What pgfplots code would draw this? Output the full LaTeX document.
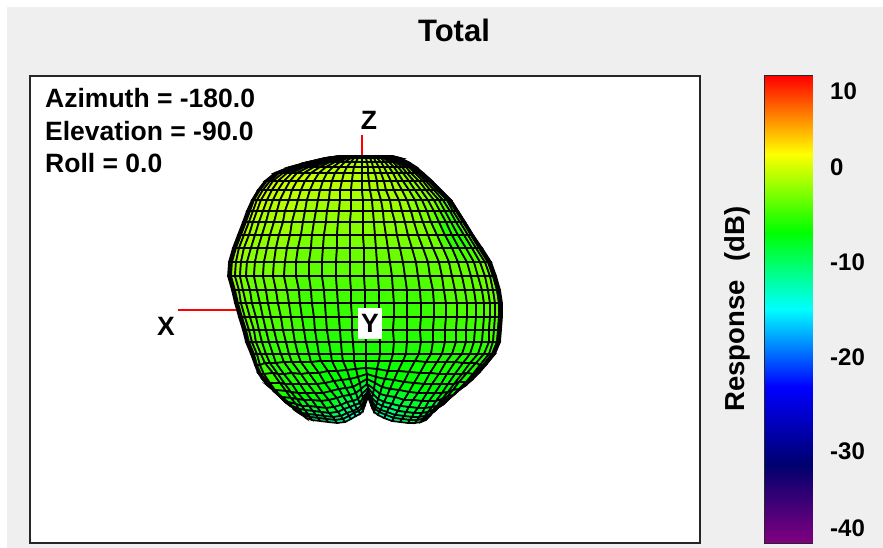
\documentclass[border=0pt]{standalone}
\usepackage{pgfplots}
\usepackage{fontspec}
\setmainfont{Liberation Sans}
\pgfplotsset{compat=1.18}
\pgfplotsset{colormap={response}{rgb255=(128,0,128) rgb255=(0,0,110) rgb255=(0,0,255) rgb255=(0,255,255) rgb255=(0,255,0) rgb255=(255,255,0) rgb255=(255,0,0)}}
\newcommand{\bigfont}{\fontsize{26.5}{30}\selectfont\bfseries}
\begin{document}
\begin{tikzpicture}[x=1pt,y=1pt]
\fill[white] (0,0) rectangle (883,548);
\fill[fill={rgb,255:red,239;green,239;blue,239}] (7,0) rectangle (883,541);
\node[font=\fontsize{31}{36}\selectfont\bfseries] at (454,518) {Total};
\node[font=\fontsize{27.5}{30}\selectfont\bfseries,rotate=90] at (737,239) {Response\hspace{19pt}(dB)};

\begin{axis}[
  at={(30pt,5pt)}, anchor=south west,
  scale only axis, width=670pt, height=467pt,
  xmin=30, xmax=700, ymin=76, ymax=543, y dir=reverse,
  xtick=\empty, ytick=\empty,
  axis background/.style={fill=white},
  axis line style={line width=1.6pt,color=black!85},
  colormap name=response, point meta min=-42, point meta max=12,
  clip=false
]
\addplot[red,line width=1.5pt] coordinates {(362,135)(362,156)};
\addplot[red,line width=1.5pt] coordinates {(178,310)(237,310)};
\addplot[surf,shader=faceted,faceted color=black,line width=1.7pt,mesh/rows=30,mesh/cols=31,point meta=explicit]
  table[x index=0,y index=1,meta index=2] {
340 156 0
340 156 0
340 156 0
341 156 0
342 156 0
343 156 0
344 156 0
346 156 0
347 156 0
349 156 0
351 156 0
353 156 0
355 156 0
357 156 0
360 156 0
362 156 0
365 156 0
368 156 0
371 156 0
374 156 0
377 156 0
380 156 -.5
382 156 -.5
384 156 -.5
386 156 -.5
388 156 -.5
389 156 -1
390 156 -1
391 156 -1
392 156 -1
392 156 -1
325 158 1
325 158 1
326 158 1
327 158 1
328 158 1
330 158 .5
332 158 .5
335 158 .5
337 158 .5
340 158 .5
344 158 0
347 158 0
351 158 0
354 158 0
358 158 0
362 158 0
366 158 0
370 158 0
374 158 0
377 158 0
381 158 0
384 158 -.5
387 158 -.5
390 158 -.5
393 158 -.5
395 158 -.5
397 158 -1
398 158 -1
399 158 -1
400 158 -1
400 158 -1
308 162 1
308 162 1
309 162 1
311 162 1
313 162 1
315 162 .5
318 162 .5
322 162 .5
326 162 .5
330 162 .5
335 162 0
340 162 0
345 162 0
351 162 0
356 162 0
362 162 0
367 162 0
372 162 0
376 162 0
381 162 0
385 162 0
389 162 -.7
393 162 -.7
396 162 -.7
399 162 -.7
402 162 -.7
404 162 -1.5
406 162 -1.5
407 162 -1.5
408 162 -1.5
408 162 -1.5
290 167 1.5
290 167 1.5
292 167 1.5
294 167 1.5
296 167 1.5
300 167 1
304 167 1
309 167 1
314 167 1
320 167 1
326 167 .5
333 167 .5
340 167 .5
347 167 .5
354 167 .5
362 167 .2
368 167 0
373 167 0
379 167 0
384 167 0
389 167 0
394 167 -.7
398 167 -.7
402 167 -.7
406 167 -.7
409 167 -.7
411 167 -1.5
413 167 -1.5
415 167 -1.5
416 167 -1.5
416 167 -1.5
275 173 1.5
275 173 1.5
277 173 1.5
279 173 1.5
283 173 1.5
287 173 1
292 173 1
297 173 1
304 173 1
311 173 1
319 173 .5
327 173 .5
335 173 .5
344 173 .5
353 173 .5
362 173 .2
368 173 0
375 173 0
381 173 0
387 173 0
393 173 0
398 173 -1
403 173 -1
407 173 -1
411 173 -1
415 173 -1
418 173 -2
420 173 -2
422 173 -2
423 173 -2
423 173 -2
265 181 1.5
266 181 1.5
267 181 1.5
270 181 1.5
273 181 1.5
278 181 1
284 181 1
290 181 1
297 181 1
305 181 1
314 181 .5
323 181 .5
332 181 .5
342 181 .5
352 181 .5
362 181 .2
369 181 0
377 181 0
384 181 0
391 181 0
397 181 0
403 181 -1
409 181 -1
414 181 -1
419 181 -1
423 181 -1
426 181 -2
429 181 -2
431 181 -2
432 181 -2
432 181 -2
258 190 1.5
259 190 1.5
260 190 1.5
263 190 1.5
267 190 1.5
272 190 1
278 190 1
285 190 1
292 190 1
301 190 1
310 190 .5
320 190 .5
330 190 .5
340 190 .5
351 190 .5
362 190 0
370 190 0
378 190 0
386 190 0
394 190 0
402 190 0
409 190 -1
415 190 -1
421 190 -1
426 190 -1
430 190 -1
434 190 -2
437 190 -2
439 190 -2
441 190 -2
441 190 -2
252 200 1.5
253 200 1.5
254 200 1.5
257 200 1.5
261 200 1.5
267 200 .5
273 200 .5
280 200 .5
289 200 .5
298 200 .5
307 200 -.2
318 200 -.2
329 200 -.2
340 200 -.2
351 200 -.2
363 200 -.5
372 200 -.5
381 200 -.5
390 200 -.5
399 200 -.5
407 200 -.5
415 200 -1.5
422 200 -1.5
428 200 -1.5
434 200 -1.5
439 200 -1.5
443 200 -2.5
447 200 -2.5
449 200 -2.5
451 200 -2.5
451 200 -2.5
247 211 1
248 211 1
250 211 1
253 211 1
257 211 1
263 211 .2
269 211 .2
277 211 .2
285 211 .2
295 211 .2
305 211 -.5
316 211 -.5
327 211 -.5
339 211 -.5
351 211 -.5
363 211 -.5
373 211 -.5
383 211 -.5
392 211 -.5
402 211 -.5
411 211 -.5
419 211 -1.5
427 211 -1.5
434 211 -1.5
440 211 -2
445 211 -4
450 211 -4
453 211 -4
456 211 -2.5
458 211 -2.5
458 211 -2.5
243 222 .5
244 222 .5
246 222 .5
249 222 .5
253 222 .5
259 222 -.2
266 222 -.2
274 222 -.2
283 222 -.2
292 222 -.2
303 222 -1
314 222 -1
326 222 -1
338 222 -1
350 222 -1
363 222 -1
374 222 -1
384 222 -1
395 222 -1
405 222 -1
414 222 -1
423 222 -1.7
431 222 -1.7
439 222 -4.5
446 222 -4.5
451 222 -4.5
456 222 -4.5
460 222 -2.5
463 222 -2.5
465 222 -2.5
465 222 -2.5
238 235 0
239 235 0
241 235 0
244 235 0
249 235 0
255 235 -.7
262 235 -.7
270 235 -.7
279 235 -.7
290 235 -.7
301 235 -1.5
312 235 -1.5
324 235 -1.5
337 235 -1.5
350 235 -1.5
363 235 -1.5
375 235 -1.5
386 235 -1.5
397 235 -1.5
408 235 -1.5
418 235 -1.5
428 235 -2
437 235 -2
445 235 -4.5
452 235 -4.5
458 235 -4.5
464 235 -4.5
468 235 -2.5
471 235 -2.5
473 235 -2.5
473 235 -2.5
233 248 0
234 248 0
236 248 0
239 248 0
244 248 0
251 248 -1
258 248 -1
267 248 -1
276 248 -1
287 248 -1
298 248 -2
311 248 -2
323 248 -2
337 248 -2
350 248 -2
364 248 -2
376 248 -2
388 248 -2
400 248 -2
412 248 -2
423 248 -2
433 248 -2.2
443 248 -2.2
452 248 -4.5
459 248 -4.5
466 248 -4.5
472 248 -4.5
476 248 -2.5
479 248 -2.5
481 248 -2.5
482 248 -2.5
229 262 -.5
230 262 -.5
232 262 -.5
236 262 -.5
241 262 -.5
247 262 -1.5
255 262 -1.5
264 262 -1.5
274 262 -1.5
285 262 -1.5
296 262 -2.5
309 262 -2.5
322 262 -2.5
336 262 -2.5
350 262 -2.5
364 262 -2.5
377 262 -2.5
390 262 -2.5
403 262 -2.5
416 262 -2.5
428 262 -2.5
439 262 -2.2
449 262 -2.2
458 262 -2.2
467 262 -2.2
474 262 -2.2
480 262 -2
485 262 -2
488 262 -2
490 262 -2
491 262 -2
228 276 -1
229 276 -1
231 276 -1
235 276 -1
240 276 -1
246 276 -2
254 276 -2
263 276 -2
273 276 -2
284 276 -2
296 276 -3
309 276 -3
322 276 -3
336 276 -3
350 276 -3
364 276 -3
378 276 -3
392 276 -3
405 276 -3
418 276 -3
430 276 -3
442 276 -2.5
452 276 -2.5
462 276 -2.5
471 276 -2.5
478 276 -2.5
485 276 -2
490 276 -2
493 276 -2
495 276 -2
496 276 -2
232 290 -1.5
233 290 -1.5
235 290 -1.5
239 290 -1.5
243 290 -1.5
250 290 -2.5
257 290 -2.5
266 290 -2.5
276 290 -2.5
287 290 -2.5
299 290 -3.5
311 290 -3.5
324 290 -3.5
337 290 -3.5
351 290 -3.5
365 290 -3.5
379 290 -3.5
393 290 -3.5
407 290 -3.5
420 290 -3.5
433 290 -3.5
444 290 -2.7
455 290 -2.7
465 290 -2.7
474 290 -2.7
482 290 -2.7
488 290 -2
493 290 -2
497 290 -2
499 290 -2
500 290 -2
235 303 -2
236 303 -2
238 303 -2
241 303 -2
246 303 -2
252 303 -3
260 303 -3
268 303 -3
278 303 -3
289 303 -3
300 303 -4
312 303 -4
325 303 -4
338 303 -4
351 303 -4
365 303 -4
379 303 -4
394 303 -4
407 303 -4
421 303 -4
434 303 -4
446 303 -3.2
457 303 -3.2
467 303 -3.2
476 303 -3.2
484 303 -3.2
490 303 -2.5
495 303 -2.5
499 303 -2.5
501 303 -2.5
502 303 -2.5
239 317 -2
240 317 -2
242 317 -2
245 317 -2
250 317 -2
256 317 -3
263 317 -3
271 317 -3
281 317 -3
291 317 -3
302 317 -4
314 317 -4
326 317 -4
339 317 -4
352 317 -4
365 317 -4
379 317 -4
394 317 -4
407 317 -4
421 317 -4
434 317 -4
446 317 -3.5
457 317 -3.5
467 317 -3.5
476 317 -3.5
484 317 -3.5
490 317 -3
495 317 -3
499 317 -3
501 317 -3
502 317 -3
243 330 -2.5
244 330 -2.5
246 330 -2.5
249 330 -2.5
254 330 -2.5
259 330 -3.5
266 330 -3.5
274 330 -3.5
283 330 -3.5
293 330 -3.5
304 330 -4.5
315 330 -4.5
327 330 -4.5
340 330 -4.5
352 330 -4.5
365 330 -4.5
379 330 -4.5
393 330 -4.5
407 330 -4.5
420 330 -4.5
433 330 -4.5
445 330 -4
456 330 -4
466 330 -4
475 330 -4
483 330 -4
489 330 -3.5
494 330 -3.5
498 330 -3.5
500 330 -3.5
501 330 -3.5
246 342 -3
247 342 -3
249 342 -3
252 342 -3
256 342 -3
262 342 -4
269 342 -4
277 342 -4
286 342 -4
295 342 -4
306 342 -5
317 342 -5
329 342 -5
341 342 -5
353 342 -5
366 342 -5
380 342 -5
394 342 -5
407 342 -5
421 342 -5
433 342 -5
445 342 -4.5
456 342 -4.5
466 342 -4.5
474 342 -4.5
482 342 -4.5
489 342 -4
493 342 -4
497 342 -4
499 342 -4
500 342 -4
251 354 -3
252 354 -3
254 354 -3
257 354 -3
261 354 -3
266 354 -4
273 354 -4
281 354 -4
289 354 -4
298 354 -4
309 354 -5
319 354 -5
331 354 -5
342 354 -5
354 354 -5
366 354 -5
380 354 -5
393 354 -5
406 354 -5
419 354 -5
431 354 -5
442 354 -4.7
452 354 -4.7
462 354 -4.7
470 354 -4.7
478 354 -4.7
484 354 -4.5
489 354 -4.5
492 354 -4.5
494 354 -4.5
495 354 -4.5
255 365 -3.5
256 365 -3.5
257 365 -3.5
260 365 -3.5
265 363 -3.5
270 363 -4.5
276 363 -4.5
284 362 -4.5
292 362 -4.5
301 362 -4.5
311 362 -5.5
321 361 -5.5
332 361 -5.5
343 361 -5.5
354 361 -5.5
366 361 -5.5
379 361 -5.5
391 361 -5.5
403 361 -5.5
415 361 -5.5
426 362 -5.5
437 362 -5.2
446 362 -5.2
455 362 -5.2
463 363 -5.2
470 363 -5.2
476 363 -5
480 365 -5
483 365 -5
485 365 -5
486 365 -5
258 373 -4
259 373 -4
261 374 -4
264 374 -4
273 373 -4
278 374 -4.7
284 374 -4.7
292 373 -4.7
301 374 -4.7
309 373 -4.7
319 373 -5.5
328 371 -5.5
337 371 -5.5
347 370 -5.5
356 369 -5.5
366 368 -5.5
377 369 -5.5
388 371 -5.5
398 371 -5.5
409 372 -5.5
420 373 -5.5
430 373 -5.2
439 374 -5.2
447 374 -5.2
455 374 -5.2
462 374 -5.2
467 373 -5
473 374 -5
476 373 -5
478 373 -5
479 373 -5
263 380 -4
265 381 -4
267 382 -4
270 383 -4
280 383 -4
285 384 -5
292 384 -5
300 384 -5
308 384 -5
317 384 -5
325 383 -6
334 381 -6
342 380 -6
350 379 -6
358 377 -6
367 374 -6
376 377 -6
385 379 -6
394 380 -6
404 382 -6
414 383 -6
424 384 -5.7
432 384 -5.7
441 384 -5.7
448 384 -5.7
454 384 -5.7
459 382 -5.5
466 382 -5.5
469 381 -5.5
471 380 -5.5
472 380 -5.5
268 386 -5
270 387 -5
272 389 -5
275 390 -5
286 391 -5
291 392 -5.7
298 393 -5.7
306 393 -5.7
315 393 -5.7
323 393 -5.7
331 391 -6.5
339 389 -6.5
346 388 -6.5
353 387 -6.5
360 383 -6.5
367 379 -6.5
375 383 -6.5
382 387 -6.5
390 389 -6.5
399 390 -6.5
409 392 -6.5
418 393 -6.2
427 393 -6.2
435 393 -6.2
442 393 -6.2
448 392 -6.2
453 390 -6
459 389 -6
462 387 -6
464 386 -6
465 386 -6
274 391 -5.5
276 393 -5.5
278 395 -5.5
282 397 -5.5
291 398 -5.5
297 399 -6.2
304 400 -6.2
312 400 -6.2
321 401 -6.2
329 400 -6.2
337 398 -7.5
343 396 -7.5
350 395 -7.5
356 393 -7.5
361 389 -7.5
367 384 -7.5
374 389 -7.5
380 394 -7.5
387 396 -7.5
395 397 -7.5
404 400 -7.5
413 400 -7
422 401 -7
429 401 -7
436 401 -7
442 399 -7
447 397 -6.5
453 395 -6.5
456 393 -6.5
457 392 -6.5
458 391 -6.5
279 396 -6
281 398 -6
284 400 -6
288 402 -6
296 404 -6
302 406 -7
309 406 -7
317 407 -7
326 408 -7
334 407 -7
341 405 -9
347 402 -9
353 401 -9
358 399 -9
362 394 -9
368 388 -9
373 394 -9
378 399 -9
384 402 -9
392 404 -9
400 406 -9
409 407 -8
418 408 -8
425 408 -8
432 407 -8
437 406 -8
441 403 -7
447 400 -7
450 398 -7
451 397 -7
452 396 -7
283 399 -6.5
285 402 -6.5
288 404 -6.5
292 406 -6.5
299 409 -6.5
305 410 -9
313 411 -9
321 412 -9
329 413 -9
338 412 -9
344 409 -10
350 407 -10
355 405 -10
360 403 -10
363 398 -10
368 391 -10
372 398 -10
377 403 -10
382 406 -10
389 408 -10
398 411 -10
406 412 -8.5
414 413 -8.5
422 413 -8.5
428 412 -8.5
433 410 -8.5
438 407 -7.5
443 404 -7.5
446 402 -7.5
447 400 -7.5
448 399 -7.5
286 402 -7
289 405 -7
292 407 -7
296 410 -7
302 413 -7
308 414 -10
316 415 -10
324 416 -10
333 417 -10
341 416 -10
347 413 -11
353 411 -11
357 409 -11
361 406 -11
364 401 -11
368 393 -11
372 401 -11
376 407 -11
381 410 -11
387 412 -11
395 415 -11
404 416 -9
412 417 -9
419 417 -9
425 416 -9
430 414 -9
435 411 -7.5
439 407 -7.5
442 405 -7.5
443 403 -7.5
444 402 -7.5
289 404 -8
292 407 -8
295 410 -8
299 413 -8
304 415 -8
310 417 -11
318 418 -11
326 419 -11
335 420 -11
343 419 -11
349 416 -13
354 413 -13
359 411 -13
362 408 -13
364 403 -13
368 395 -13
371 403 -12
375 409 -12
379 412 -12
386 415 -12
394 418 -12
402 419 -9
410 420 -9
417 420 -9
423 419 -9
428 417 -9
432 413 -8
435 410 -8
438 407 -8
439 405 -8
440 404 -8
292 406 -8
295 409 -8
298 412 -8
302 415 -8
306 418 -8
312 420 -11
320 421 -11
328 422 -11
337 423 -11
345 422 -11
351 419 -14
356 416 -14
360 414 -14
363 411 -14
365 405 -14
368 397 -15
371 405 -12
374 412 -12
378 415 -12
384 418 -12
392 421 -12
400 422 -9
408 423 -9
415 423 -9
421 422 -9
426 420 -9
430 416 -8
433 412 -8
436 409 -8
437 407 -8
438 406 -8
};
\node[font=\bigfont,anchor=base west,inner sep=0pt] at (axis cs:45,108) {Azimuth = -180.0};
\node[font=\bigfont,anchor=base west,inner sep=0pt] at (axis cs:45,141) {Elevation = -90.0};
\node[font=\bigfont,anchor=base west,inner sep=0pt] at (axis cs:45,173) {Roll = 0.0};
\node[font=\bigfont] at (axis cs:369,120) {Z};
\node[font=\bigfont] at (axis cs:166,326) {X};
\node[font=\bigfont,fill=white,minimum width=24pt,minimum height=31pt,inner sep=0pt] at (axis cs:370,323) {Y};
\end{axis}

\begin{axis}[
  at={(765pt,5pt)}, anchor=south west,
  scale only axis, width=47pt, height=467pt,
  xmin=0, xmax=1, ymin=-42, ymax=12,
  xtick=\empty,
  ytick={10.4,1.6,-9.4,-20.4,-31.2,-40.1},
  yticklabels={10,0,-10,-20,-30,-40},
  yticklabel pos=right,
  major tick length=0pt,
  yticklabel style={font=\fontsize{24}{28}\selectfont\bfseries,anchor=west,inner sep=0pt,xshift=18pt,yshift=-1.5pt},
  axis line style={line width=1.6pt,color=black!85},
  colormap name=response, point meta min=-42, point meta max=12
]
\addplot[surf,shader=interp,mesh/cols=2,point meta=y] coordinates {
(0,-42)(1,-42)
(0,-33)(1,-33)
(0,-24)(1,-24)
(0,-15)(1,-15)
(0,-6)(1,-6)
(0,3)(1,3)
(0,12)(1,12)
};
\end{axis}
\end{tikzpicture}
\end{document}
